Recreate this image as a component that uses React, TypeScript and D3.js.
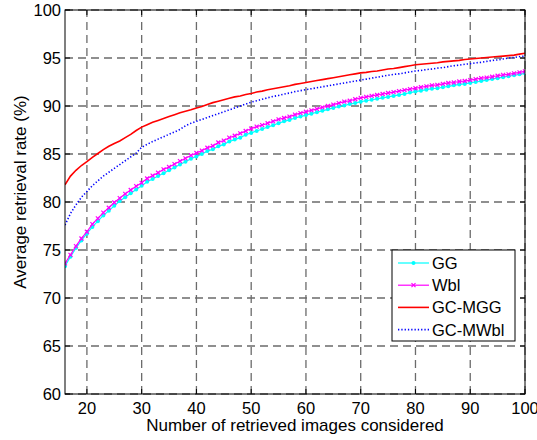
import React from "react";
import * as d3 from "d3";

const xs = [16,17,18,19,20,21,22,23,24,25,26,27,28,29,30,31,32,33,34,35,36,37,38,39,40,41,42,43,44,45,46,47,48,49,50,51,52,53,54,55,56,57,58,59,60,61,62,63,64,65,66,67,68,69,70,71,72,73,74,75,76,77,78,79,80,81,82,83,84,85,86,87,88,89,90,91,92,93,94,95,96,97,98,99,100];

const gg = [73.3,74.3,75.2,76.0,76.7,77.4,78.0,78.6,79.1,79.6,80.1,80.5,80.9,81.3,81.7,82.1,82.4,82.7,83.0,83.3,83.6,83.9,84.2,84.5,84.75,85.0,85.3,85.5,85.8,86.0,86.3,86.5,86.7,87.0,87.2,87.4,87.6,87.8,88.0,88.2,88.4,88.55,88.75,88.9,89.05,89.2,89.35,89.5,89.65,89.8,89.95,90.05,90.2,90.3,90.45,90.55,90.65,90.75,90.85,90.95,91.05,91.15,91.25,91.4,91.5,91.6,91.7,91.8,91.85,91.95,92.05,92.15,92.25,92.3,92.4,92.5,92.6,92.7,92.8,92.9,93.0,93.1,93.2,93.3,93.4];

const wbl = [73.6,74.5,75.4,76.2,76.9,77.7,78.3,78.9,79.4,79.95,80.4,80.85,81.25,81.65,82.0,82.45,82.75,83.05,83.4,83.65,83.95,84.25,84.55,84.85,85.1,85.35,85.65,85.85,86.2,86.4,86.7,86.9,87.15,87.4,87.65,87.85,88.0,88.2,88.4,88.6,88.75,88.9,89.1,89.25,89.4,89.55,89.7,89.85,90.0,90.15,90.3,90.45,90.55,90.7,90.85,90.95,91.05,91.15,91.25,91.35,91.45,91.55,91.65,91.75,91.85,91.95,92.05,92.15,92.2,92.3,92.4,92.45,92.55,92.6,92.7,92.8,92.9,92.95,93.05,93.15,93.25,93.3,93.4,93.5,93.6];

const gcmgg = [81.8,82.7,83.3,83.8,84.2,84.65,85.05,85.45,85.8,86.1,86.35,86.7,87.05,87.45,87.8,88.05,88.3,88.5,88.7,88.9,89.1,89.3,89.45,89.6,89.8,89.95,90.15,90.35,90.5,90.65,90.8,90.95,91.05,91.2,91.3,91.45,91.55,91.7,91.8,91.9,92.0,92.1,92.25,92.35,92.45,92.55,92.65,92.75,92.85,92.95,93.05,93.15,93.25,93.35,93.45,93.5,93.6,93.65,93.75,93.85,93.9,94.0,94.1,94.2,94.3,94.35,94.4,94.45,94.5,94.6,94.65,94.7,94.75,94.85,94.9,94.95,95.0,95.05,95.1,95.15,95.2,95.25,95.3,95.4,95.5];

const gcmwbl = [77.6,78.8,79.7,80.5,81.1,81.7,82.2,82.7,83.1,83.5,83.9,84.3,84.7,85.1,85.7,86.0,86.3,86.55,86.8,87.05,87.3,87.55,87.95,88.2,88.4,88.6,88.8,89.0,89.2,89.4,89.6,89.8,90.0,90.2,90.4,90.55,90.7,90.85,91.0,91.1,91.25,91.35,91.5,91.6,91.7,91.8,91.9,92.0,92.1,92.2,92.3,92.4,92.5,92.6,92.7,92.8,92.9,93.0,93.1,93.2,93.3,93.35,93.45,93.55,93.65,93.7,93.8,93.85,93.95,94.0,94.1,94.2,94.25,94.35,94.4,94.5,94.55,94.65,94.75,94.8,94.9,95.0,95.05,95.15,95.2];

const xTicks = [20,30,40,50,60,70,80,90,100];
const yTicks = [60,65,70,75,80,85,90,95,100];
const seriesNames = ["GG","Wbl","GC-MGG","GC-MWbl"];
const xLabel = "Number of retrieved images considered";
const yLabel = "Average retrieval rate (%)";

const W = 537, H = 440;
const L = 65, R = 525, T = 10, B = 394;
const FONT = "'Liberation Sans', Arial, sans-serif";

export default function App() {
  const x = d3.scaleLinear().domain([16, 100]).range([L, R]);
  const y = d3.scaleLinear().domain([60, 100]).range([B, T]);
  const line = d3.line<number>().x((_, i) => x(xs[i])).y((d) => y(d));
  const series = [
    { name: seriesNames[0], data: gg, color: "#00ffff", dash: undefined, width: 1.2, marker: "dot" },
    { name: seriesNames[1], data: wbl, color: "#ff00ff", dash: undefined, width: 1.2, marker: "x" },
    { name: seriesNames[2], data: gcmgg, color: "#ff0000", dash: undefined, width: 1.6, marker: "none" },
    { name: seriesNames[3], data: gcmwbl, color: "#0000ff", dash: "1.3,2", width: 1.6, marker: "none" },
  ];
  const gridColor = "#6b6b6b";
  const legX = 392, legY = 250, legW = 123, legH = 91;
  return (
    <svg width={W} height={H} style={{ position: "absolute", left: 0, top: 0, background: "#fff" }} fontFamily={FONT}>
      <rect x={0} y={0} width={W} height={H} fill="#fff" />
      {xTicks.map((t) => (
        <line key={"gx" + t} x1={x(t)} x2={x(t)} y1={B} y2={T} stroke={gridColor} strokeWidth={1.3} strokeDasharray="8,5" />
      ))}
      {yTicks.map((t) => (
        <line key={"gy" + t} x1={L} x2={R} y1={y(t)} y2={y(t)} stroke={gridColor} strokeWidth={1.3} strokeDasharray="8,5" />
      ))}
      {xTicks.map((t) => (
        <g key={"tx" + t}>
          <line x1={x(t)} x2={x(t)} y1={B} y2={B - 5} stroke="#000" />
          <line x1={x(t)} x2={x(t)} y1={T} y2={T + 5} stroke="#000" />
          <text x={x(t)} y={414} fontSize={16.5} textAnchor="middle" fill="#000">{t}</text>
        </g>
      ))}
      {yTicks.map((t) => (
        <g key={"ty" + t}>
          <line x1={L} x2={L + 5} y1={y(t)} y2={y(t)} stroke="#000" />
          <line x1={R} x2={R - 5} y1={y(t)} y2={y(t)} stroke="#000" />
          <text x={61} y={y(t) + 6} fontSize={16.5} textAnchor="end" fill="#000">{t}</text>
        </g>
      ))}
      <defs>
        <clipPath id="plotclip"><rect x={L} y={T} width={R - L} height={B - T} /></clipPath>
      </defs>
      <g clipPath="url(#plotclip)">
        {series.map((s) => (
          <g key={s.name}>
            <path d={line(s.data) || ""} fill="none" stroke={s.color} strokeWidth={s.width} strokeDasharray={s.dash} />
            {s.marker === "dot" && s.data.map((v, i) => (
              <circle key={i} cx={x(xs[i])} cy={y(v)} r={2} fill={s.color} />
            ))}
            {s.marker === "x" && s.data.map((v, i) => {
              const cx = x(xs[i]), cy = y(v), k = 2;
              return (
                <path key={i} d={`M${cx - k},${cy - k}L${cx + k},${cy + k}M${cx - k},${cy + k}L${cx + k},${cy - k}`} stroke={s.color} strokeWidth={1.2} />
              );
            })}
          </g>
        ))}
      </g>
      <rect x={L} y={T} width={R - L} height={B - T} fill="none" stroke="#000" strokeWidth={1} />
      <text x={(L + R) / 2} y={431} fontSize={17} textAnchor="middle" fill="#000">{xLabel}</text>
      <text transform={`translate(26,192) rotate(-90)`} fontSize={17} textAnchor="middle" fill="#000">{yLabel}</text>
      <rect x={legX} y={legY} width={legW} height={legH} fill="#fff" stroke="#000" strokeWidth={1} />
      {series.map((s, i) => {
        const ly = legY + 13 + i * 22.2;
        return (
          <g key={"leg" + s.name}>
            <line x1={legX + 6} x2={legX + 37} y1={ly} y2={ly} stroke={s.color} strokeWidth={s.width} strokeDasharray={s.dash} />
            {s.marker === "dot" && <circle cx={legX + 21.5} cy={ly} r={2} fill={s.color} />}
            {s.marker === "x" && (
              <path d={`M${legX + 19.5},${ly - 2}L${legX + 23.5},${ly + 2}M${legX + 19.5},${ly + 2}L${legX + 23.5},${ly - 2}`} stroke={s.color} strokeWidth={1.2} />
            )}
            <text x={legX + 40} y={ly + 6} fontSize={16.5} fill="#000">{s.name}</text>
          </g>
        );
      })}
    </svg>
  );
}
